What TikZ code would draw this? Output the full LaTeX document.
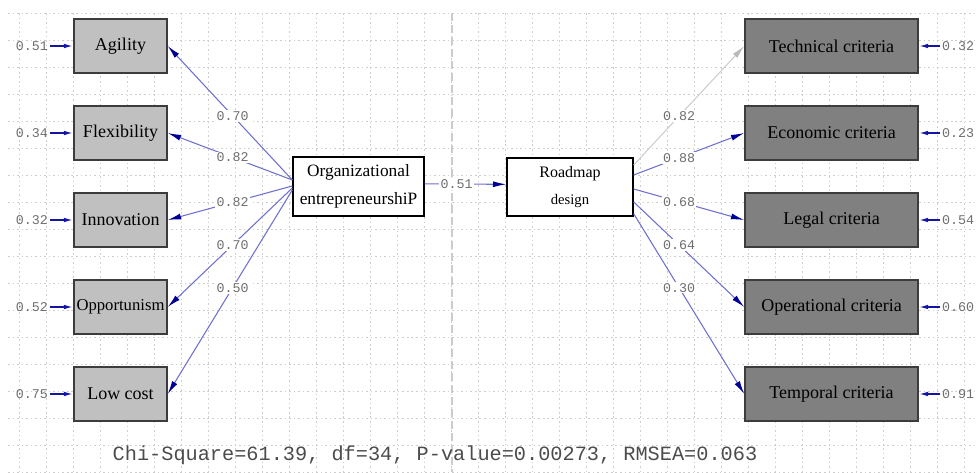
\documentclass[tikz,border=0pt]{standalone}
\usepackage{fontspec}
\setmainfont{Liberation Serif}
\newfontfamily\coefmono{Liberation Mono}
\usepackage{xcolor}
\usetikzlibrary{arrows.meta,positioning,calc}
\definecolor{pathblue}{RGB}{112,112,208}
\definecolor{tipblue}{RGB}{0,0,150}
\definecolor{errblue}{RGB}{20,20,165}
\definecolor{lightbox}{RGB}{192,192,192}
\definecolor{darkbox}{RGB}{128,128,128}
\definecolor{boxline}{RGB}{60,60,60}
\definecolor{coefgray}{RGB}{110,110,110}
\definecolor{gridgray}{RGB}{205,205,205}
\definecolor{fadegray}{RGB}{205,205,205}
\tikzset{
	obsleft/.style={draw=boxline,fill=lightbox,line width=1.1pt,minimum width=69.75pt,minimum height=40.5pt,inner sep=0pt,font=\fontsize{13.5}{15}\selectfont},
	obsright/.style={obsleft,fill=darkbox,minimum width=129.75pt},
	latent/.style={draw=black,fill=white,line width=1pt,inner sep=0pt,align=center},
	coef/.style={fill=white,inner sep=1pt,text=coefgray,font=\coefmono\fontsize{10}{10}\selectfont},
	errlab/.style={inner sep=1pt,text=coefgray,font=\coefmono\fontsize{10}{10}\selectfont},
	loadarrow/.style={draw=pathblue,line width=0.8pt,-{Latex[length=10pt,width=4.5pt,color=tipblue]}},
	errarrow/.style={draw=errblue,line width=1.1pt,-{Latex[length=7pt,width=3.4pt]}},
	gridline/.style={draw=gridgray,line width=0.8pt,dash pattern=on 1.2pt off 2.2pt},
	midline/.style={draw=gray!40,line width=0.8pt,dash pattern=on 6pt off 3pt}
}
\begin{document}
\begin{tikzpicture}[x=0.75pt,y=-0.75pt]
		\useasboundingbox (0,0) rectangle (976,472);
		\foreach \i in {0,...,35} \draw[gridline] (19.5+27*\i,13) -- (19.5+27*\i,472);
		\foreach \j in {0,...,17} \draw[gridline] (8,13.3+27*\j) -- (976,13.3+27*\j);
		\draw[midline] (452,13) -- (452,472);
		
		\node[obsleft] (agility) at (120.5,46) {Agility};
		\node[obsleft] (flexibility) at (120.5,133) {Flexibility};
		\node[obsleft] (innovation) at (120.5,220) {Innovation};
		\node[obsleft,font=\fontsize{12.5}{15}\selectfont] (opportunism) at (120.5,307) {Opportunism};
		\node[obsleft] (lowcost) at (120.5,394) {Low cost};
		
		\node[obsright] (technical) at (831.5,46) {Technical criteria};
		\node[obsright] (economic) at (831.5,133) {Economic criteria};
		\node[obsright] (legal) at (831.5,220) {Legal criteria};
		\node[obsright] (operational) at (831.5,307) {Operational criteria};
		\node[obsright] (temporal) at (831.5,394) {Temporal criteria};
		
		\node[latent,minimum width=98.25pt,minimum height=44.25pt,font=\fontsize{13}{21}\selectfont] (org) at (358.5,186.5) {Organizational\\entrepreneurshiP};
		\node[latent,minimum width=94.5pt,minimum height=43.5pt,font=\fontsize{12}{20}\selectfont] (road) at (570,187) {Roadmap\\{\fontsize{11}{20}\selectfont design}};
		
		\node[errlab] (eagility) at (32,46) {0.51};
		\node[errlab] (eflexibility) at (32,133) {0.34};
		\node[errlab] (einnovation) at (32,220) {0.32};
		\node[errlab] (eopportunism) at (32,307) {0.52};
		\node[errlab] (elowcost) at (32,394) {0.75};
		\draw[errarrow] (eagility) -- (agility);
		\draw[errarrow] (eflexibility) -- (flexibility);
		\draw[errarrow] (einnovation) -- (innovation);
		\draw[errarrow] (eopportunism) -- (opportunism);
		\draw[errarrow] (elowcost) -- (lowcost);
		
		\node[errlab] (etechnical) at (958,46) {0.32};
		\node[errlab] (eeconomic) at (958,133) {0.23};
		\node[errlab] (elegal) at (958,220) {0.54};
		\node[errlab] (eoperational) at (958,307) {0.60};
		\node[errlab] (etemporal) at (958,394) {0.91};
		\draw[errarrow] (etechnical) -- (technical);
		\draw[errarrow] (eeconomic) -- (economic);
		\draw[errarrow] (elegal) -- (legal);
		\draw[errarrow] (eoperational) -- (operational);
		\draw[errarrow] (etemporal) -- (temporal);
		
		\draw[loadarrow] ([yshift=4.9pt]org.west) -- node[coef,pos=0.48] {0.70} (agility.east);
		\draw[loadarrow] ([yshift=4.9pt]org.west) -- node[coef,pos=0.48] {0.82} (flexibility.east);
		\draw[loadarrow] ([yshift=0.4pt]org.west) -- node[coef,pos=0.48] {0.82} (innovation.east);
		\draw[loadarrow] ([yshift=-1.1pt]org.west) -- node[coef,pos=0.48] {0.70} (opportunism.east);
		\draw[loadarrow] ([yshift=-2.6pt]org.west) -- node[coef,pos=0.48] {0.50} (lowcost.east);
		
		\draw[loadarrow] ([yshift=2pt]org.east) -- node[coef,pos=0.39] {0.51} ([yshift=2pt]road.west);
		
		\draw[loadarrow,draw=fadegray,-{Latex[length=10pt,width=4.5pt,color=fadegray!90!black]}] ([yshift=16.5pt]road.east) -- node[coef,pos=0.41] {0.82} (technical.west);
		\draw[loadarrow] ([yshift=9pt]road.east) -- node[coef,pos=0.41] {0.88} (economic.west);
		\draw[loadarrow] ([yshift=-1.5pt]road.east) -- node[coef,pos=0.41] {0.68} (legal.west);
		\draw[loadarrow] ([yshift=-11.2pt]road.east) -- node[coef,pos=0.41] {0.64} (operational.west);
		\draw[loadarrow] ([yshift=-20pt]road.east) -- node[coef,pos=0.41] {0.30} (temporal.west);
		
		\node[text=black!70,font=\coefmono\fontsize{15.2}{16}\selectfont] (fitline) at (435,455) {Chi-Square=61.39, df=34, P-value=0.00273, RMSEA=0.063};
	\end{tikzpicture}
\end{document}
